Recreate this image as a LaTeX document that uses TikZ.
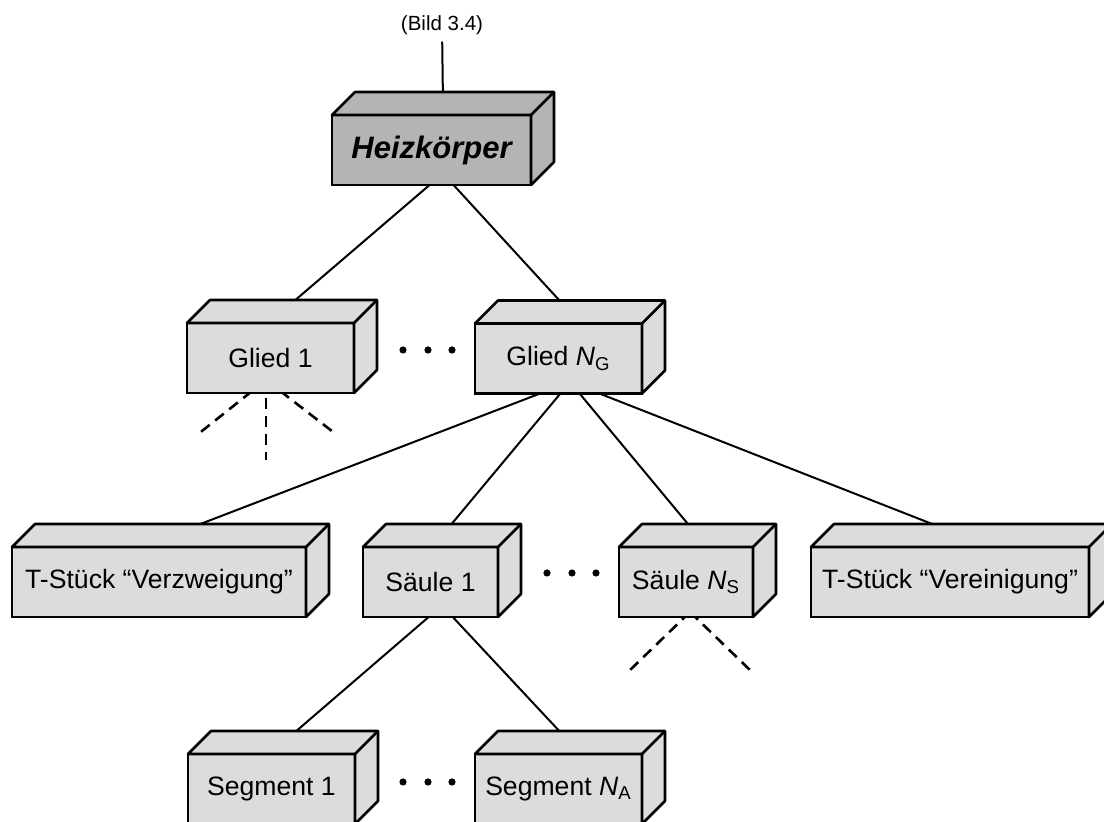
\documentclass[tikz,border=0pt]{standalone}
\usepackage{fontspec}
\setmainfont{Liberation Sans}
\usepackage{xcolor}
\definecolor{boxfill}{HTML}{DCDCDC}
\definecolor{heizfill}{HTML}{B4B4B4}
\usepackage{tikz}
\usetikzlibrary{calc,backgrounds}

% top and right face of a box node
\newcommand{\boxdepth}[2]{%
  \draw[line width=1.3pt, line join=round, fill=#2]
    (#1.north west) -- ([shift={(11.5pt,11.5pt)}]#1.north west)
    -- ([shift={(11.5pt,11.5pt)}]#1.north east)
    -- ([shift={(11.5pt,11.5pt)}]#1.south east)
    -- (#1.south east) -- (#1.north east) -- cycle;
  \draw[line width=1.3pt] (#1.north east) -- ([shift={(11.5pt,11.5pt)}]#1.north east);
}

\tikzset{
  block/.style={draw, line width=1.3pt, fill=boxfill, minimum height=35pt,
    inner sep=0pt, outer sep=0pt, font=\fontsize{13.3}{16}\selectfont},
  link/.style={line width=1pt},
  loose/.style={line width=1.3pt, dash pattern=on 5.5pt off 3.5pt},
}

\begin{document}
\begin{tikzpicture}[x=0.5pt, y=-0.5pt]
  \useasboundingbox (0,0) rectangle (1104,822);
  \clip (0,0) rectangle (1104,822);

  % Label
  \node[font=\fontsize{10.25}{12}\selectfont] (bild) at (442,25) {(Bild 3.4)};

  % Boxes
  \node[block, fill=heizfill, minimum width=99.5pt,
        font=\fontsize{15.5}{18}\selectfont\bfseries\itshape] (heiz) at (431.5,150) {Heizkörper};
  \node[block, minimum width=83.5pt] (glied1) at (270.5,358) {Glied 1};
  \node[block, minimum width=83.5pt] (gliedN) at (558.5,358.5) {Glied \textit{N}\textsubscript{G}};
  \node[block, minimum width=147pt] (verzw) at (159,582) {T-Stück “Verzweigung”};
  \node[block, minimum width=67.5pt] (saeule1) at (430.5,582) {Säule 1};
  \node[block, minimum width=67pt] (saeuleN) at (686,582) {Säule \textit{N}\textsubscript{S}};
  \node[block, minimum width=139pt] (vereini) at (950,582) {T-Stück “Vereinigung”};
  \node[block, minimum width=83.5pt] (seg1) at (271.5,789) {Segment 1};
  \node[block, minimum width=83.5pt] (segN) at (558.5,789) {Segment \textit{N}\textsubscript{A}};

  \boxdepth{heiz}{heizfill}
  \foreach \n in {glied1,gliedN,verzw,saeule1,saeuleN,vereini,seg1,segN} {
    \boxdepth{\n}{boxfill}
  }

  % Centres of top and bottom faces
  \foreach \n in {heiz,glied1,gliedN,verzw,saeule1,saeuleN,vereini,seg1,segN} {
    \coordinate (\n-top) at ([shift={(5.75pt,5.75pt)}]\n.north);
    \coordinate (\n-bot) at ([shift={(5.75pt,5.75pt)}]\n.south);
  }

  % Dots
  \foreach \x in {403,428,452} \fill (\x,350) circle (1.8pt);
  \foreach \x in {547,572,596} \fill (\x,573) circle (1.8pt);
  \foreach \x in {403,428,452} \fill (\x,782) circle (1.8pt);

  % Open branches
  \coordinate (g1-fan) at ([shift={(-2.25pt,6.5pt)}]glied1.south);
  \coordinate (g1-l) at (197,435);
  \coordinate (g1-m) at (266,460);
  \coordinate (g1-r) at (337,435);
  \coordinate (sN-fan) at ([shift={(2pt,2.5pt)}]saeuleN.south);
  \coordinate (sN-l) at (628,672);
  \coordinate (sN-r) at (752,672);

  \begin{pgfonlayer}{background}
    \draw[link] (bild) -- (heiz-top);
    \draw[link] (heiz-bot) -- (glied1-top);
    \draw[link] (heiz-bot) -- (gliedN-top);
    \draw[link] (gliedN-bot) -- (verzw-top);
    \draw[link] (gliedN-bot) -- (saeule1-top);
    \draw[link] (gliedN-bot) -- (saeuleN-top);
    \draw[link] (gliedN-bot) -- (vereini-top);
    \draw[link] (saeule1-bot) -- (seg1-top);
    \draw[link] (saeule1-bot) -- (segN-top);
    \draw[loose] (g1-fan) -- (g1-l);
    \draw[loose] (g1-fan) -- (g1-m);
    \draw[loose] (g1-fan) -- (g1-r);
    \draw[loose] (sN-fan) -- (sN-l);
    \draw[loose] (sN-fan) -- (sN-r);
  \end{pgfonlayer}
\end{tikzpicture}
\end{document}
